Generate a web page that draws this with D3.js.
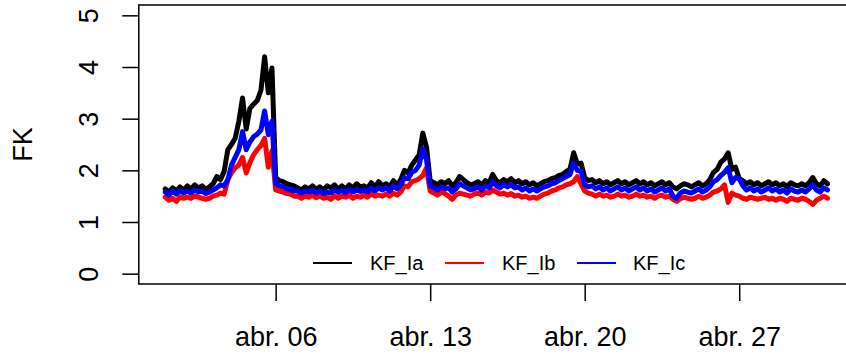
<!DOCTYPE html>
<html>
<head>
<meta charset="utf-8">
<script src="https://cdn.jsdelivr.net/npm/d3@7"></script>
<style>
  html, body { margin: 0; padding: 0; background: #fff; }
  svg { display: block; font-family: "Liberation Sans", Arial, Helvetica, sans-serif; }
</style>
</head>
<body>
<svg id="chart" width="846" height="354"></svg>
<script>
// Series: 4-hourly readings from 1 April 00:00 to 1 May 00:00
const seriesNames = ["KF_Ia", "KF_Ib", "KF_Ic"];
const seriesColors = ["#000000", "#ff0000", "#0000ff"];
const startTime = Date.UTC(2021, 3, 1, 0, 0);
const stepHours = 4;

const kfIa = [
  1.64, 1.58, 1.66, 1.60, 1.68, 1.62,
  1.70, 1.64, 1.72, 1.66, 1.70, 1.63,
  1.68, 1.74, 1.88, 1.82, 1.98, 2.40,
  2.50, 2.62, 2.95, 3.40, 2.80, 3.20,
  3.28, 3.35, 3.55, 4.20, 3.50, 3.98,
  1.86, 1.80, 1.78, 1.74, 1.72, 1.70,
  1.66, 1.62, 1.68, 1.64, 1.70, 1.63,
  1.68, 1.62, 1.70, 1.66, 1.72, 1.64,
  1.70, 1.64, 1.72, 1.66, 1.74, 1.68,
  1.70, 1.66, 1.76, 1.68, 1.78, 1.70,
  1.74, 1.68, 1.80, 1.72, 1.82, 2.00,
  1.95, 2.10, 2.20, 2.30, 2.72, 2.45,
  1.80, 1.76, 1.72, 1.78, 1.74, 1.80,
  1.70, 1.76, 1.88, 1.82, 1.76, 1.72,
  1.74, 1.78, 1.72, 1.80, 1.76, 1.92,
  1.80, 1.76, 1.82, 1.78, 1.84, 1.76,
  1.80, 1.74, 1.78, 1.72, 1.76, 1.70,
  1.74, 1.78, 1.80, 1.84, 1.86, 1.90,
  1.92, 1.98, 2.02, 2.34, 2.12, 2.14,
  1.86, 1.80, 1.82, 1.76, 1.80, 1.74,
  1.78, 1.72, 1.76, 1.80, 1.74, 1.78,
  1.72, 1.76, 1.80, 1.74, 1.78, 1.72,
  1.76, 1.70, 1.74, 1.78, 1.72, 1.76,
  1.68, 1.64, 1.70, 1.74, 1.72, 1.68,
  1.72, 1.76, 1.70, 1.74, 1.82, 1.96,
  2.02, 2.16, 2.22, 2.34, 2.02, 2.06,
  1.84, 1.80, 1.74, 1.78, 1.72, 1.76,
  1.70, 1.74, 1.78, 1.72, 1.76, 1.70,
  1.74, 1.68, 1.76, 1.72, 1.70, 1.74,
  1.70, 1.76, 1.86, 1.74, 1.70, 1.80,
  1.74
];

const kfIb = [
  1.48, 1.42, 1.46, 1.40, 1.48, 1.46,
  1.48, 1.46, 1.50, 1.48, 1.46, 1.44,
  1.46, 1.50, 1.52, 1.56, 1.54, 1.82,
  1.95, 2.05, 2.10, 2.25, 1.95, 2.15,
  2.30, 2.40, 2.48, 2.62, 2.06, 2.38,
  1.62, 1.60, 1.58, 1.55, 1.54, 1.50,
  1.50, 1.46, 1.50, 1.48, 1.52, 1.47,
  1.50, 1.46, 1.48, 1.44, 1.50, 1.46,
  1.50, 1.48, 1.52, 1.46, 1.50, 1.48,
  1.52, 1.48, 1.54, 1.50, 1.52, 1.50,
  1.54, 1.50, 1.56, 1.52, 1.58, 1.70,
  1.68, 1.78, 1.80, 1.84, 1.90, 2.05,
  1.60, 1.56, 1.52, 1.58, 1.55, 1.50,
  1.44, 1.52, 1.56, 1.54, 1.52, 1.50,
  1.54, 1.56, 1.52, 1.58, 1.56, 1.62,
  1.58, 1.54, 1.56, 1.52, 1.55, 1.50,
  1.52, 1.48, 1.50, 1.46, 1.48, 1.46,
  1.50, 1.54, 1.56, 1.60, 1.62, 1.66,
  1.68, 1.72, 1.74, 1.78, 1.88, 1.74,
  1.60, 1.56, 1.54, 1.50, 1.54, 1.50,
  1.52, 1.48, 1.50, 1.54, 1.50, 1.52,
  1.48, 1.50, 1.54, 1.50, 1.52, 1.48,
  1.50, 1.46, 1.50, 1.52, 1.48, 1.50,
  1.44, 1.40, 1.45, 1.48, 1.46, 1.44,
  1.46, 1.50, 1.46, 1.48, 1.52, 1.58,
  1.60, 1.64, 1.72, 1.38, 1.56, 1.52,
  1.50, 1.46, 1.44, 1.48, 1.46, 1.44,
  1.46, 1.48, 1.44, 1.46, 1.42, 1.46,
  1.44, 1.40, 1.46, 1.44, 1.42, 1.46,
  1.44, 1.40, 1.34, 1.42, 1.46, 1.50,
  1.46
];

const kfIc = [
  1.58, 1.52, 1.60, 1.54, 1.60, 1.56,
  1.60, 1.56, 1.62, 1.58, 1.60, 1.55,
  1.58, 1.62, 1.66, 1.72, 1.70, 1.82,
  2.10, 2.25, 2.40, 2.75, 2.40, 2.55,
  2.65, 2.70, 2.78, 3.15, 2.69, 2.95,
  1.74, 1.70, 1.68, 1.64, 1.62, 1.60,
  1.60, 1.56, 1.60, 1.58, 1.62, 1.56,
  1.60, 1.55, 1.58, 1.56, 1.62, 1.57,
  1.61, 1.57, 1.63, 1.58, 1.62, 1.59,
  1.62, 1.58, 1.66, 1.60, 1.66, 1.62,
  1.66, 1.60, 1.70, 1.64, 1.72, 1.86,
  1.84, 1.96, 2.00, 2.10, 2.42, 2.20,
  1.70, 1.66, 1.62, 1.68, 1.64, 1.66,
  1.58, 1.64, 1.74, 1.70, 1.66, 1.62,
  1.64, 1.68, 1.62, 1.70, 1.66, 1.78,
  1.70, 1.66, 1.72, 1.68, 1.72, 1.66,
  1.68, 1.62, 1.66, 1.60, 1.64, 1.60,
  1.64, 1.68, 1.70, 1.74, 1.76, 1.80,
  1.84, 1.88, 1.92, 2.14, 2.00, 1.98,
  1.72, 1.68, 1.70, 1.64, 1.68, 1.62,
  1.66, 1.60, 1.64, 1.68, 1.62, 1.66,
  1.60, 1.64, 1.68, 1.62, 1.66, 1.60,
  1.64, 1.58, 1.62, 1.66, 1.60, 1.64,
  1.50, 1.46, 1.56, 1.60, 1.58, 1.56,
  1.60, 1.64, 1.58, 1.62, 1.68, 1.78,
  1.82, 1.90, 1.96, 2.05, 1.76, 1.86,
  1.84, 1.70, 1.62, 1.66, 1.60, 1.64,
  1.58, 1.62, 1.66, 1.60, 1.64, 1.58,
  1.62, 1.56, 1.64, 1.60, 1.58, 1.62,
  1.58, 1.64, 1.72, 1.62, 1.58, 1.66,
  1.62
];

const xTickDates = [Date.UTC(2021, 3, 6), Date.UTC(2021, 3, 13), Date.UTC(2021, 3, 20), Date.UTC(2021, 3, 27)];
const xTickLabels = ["abr. 06", "abr. 13", "abr. 20", "abr. 27"];
const yTicks = [0, 1, 2, 3, 4, 5];
const yLabel = "FK";

// ---- layout ----
const svg = d3.select("#chart");
const plot = { left: 138.8, right: 854, top: 5, bottom: 284 };

const allSeries = [kfIa, kfIb, kfIc];
const times = kfIa.map((_, i) => new Date(startTime + i * stepHours * 3600e3));
const t0 = +times[0], t1 = +times[times.length - 1];
const pad = (t1 - t0) * 0.04;

const x = d3.scaleUtc()
  .domain([new Date(t0 - pad), new Date(t1 + pad)])
  .range([plot.left, plot.right]);
const y = d3.scaleLinear()
  .domain([-0.2, 5.2])
  .range([plot.bottom, plot.top]);

// ---- data lines (drawn in order: Ia, Ib, Ic) ----
const line = d3.line()
  .x((d, i) => x(times[i]))
  .y(d => y(d));

svg.append("g")
  .selectAll("path")
  .data(allSeries)
  .join("path")
  .attr("d", d => line(d))
  .attr("fill", "none")
  .attr("stroke", (d, i) => seriesColors[i])
  .attr("stroke-width", 5)
  .attr("stroke-linejoin", "round")
  .attr("stroke-linecap", "round");

// ---- axes ----
const yAxis = svg.append("g")
  .attr("transform", `translate(${plot.left},0)`)
  .call(d3.axisLeft(y).tickValues(yTicks).tickSize(16.5).tickFormat(d3.format("d")));
yAxis.select(".domain").remove();
yAxis.selectAll(".tick line").attr("stroke", "#000").attr("stroke-width", 1.5);
yAxis.selectAll(".tick text")
  .attr("x", null).attr("dy", null)
  .attr("transform", "translate(-41,0) rotate(-90)")
  .attr("text-anchor", "middle")
  .attr("fill", "#000")
  .style("font-size", "27px")
  .style("font-family", "'Liberation Sans', Arial, sans-serif");

const xAxis = svg.append("g")
  .attr("transform", `translate(0,${plot.bottom})`)
  .call(d3.axisBottom(x).tickValues(xTickDates.map(d => new Date(d)))
    .tickFormat((d, i) => xTickLabels[i]).tickSize(17));
xAxis.select(".domain").remove();
xAxis.selectAll(".tick line").attr("stroke", "#000").attr("stroke-width", 1.5);
xAxis.selectAll(".tick text")
  .attr("y", 61.5).attr("dy", null)
  .attr("text-anchor", "middle")
  .attr("fill", "#000")
  .style("font-size", "27px")
  .style("font-family", "'Liberation Sans', Arial, sans-serif");

// ---- plot frame ----
svg.append("rect")
  .attr("x", plot.left).attr("y", plot.top)
  .attr("width", plot.right - plot.left).attr("height", plot.bottom - plot.top)
  .attr("fill", "none").attr("stroke", "#000").attr("stroke-width", 1.5);

// ---- y label ----
svg.append("text")
  .attr("transform", `translate(31.5,${(plot.top + plot.bottom) / 2}) rotate(-90)`)
  .attr("text-anchor", "middle")
  .style("font-size", "27px")
  .text(yLabel);

// ---- legend ----
const legendItems = [
  { lx: 313, tx: 370 },
  { lx: 445, tx: 502 },
  { lx: 577, tx: 633 }
];
const legendY = 263;
const lg = svg.append("g");
legendItems.forEach((p, i) => {
  lg.append("line")
    .attr("x1", p.lx).attr("x2", p.lx + 39)
    .attr("y1", legendY).attr("y2", legendY)
    .attr("stroke", seriesColors[i]).attr("stroke-width", 2);
  lg.append("text")
    .attr("x", p.tx).attr("y", legendY)
    .attr("dy", "0.35em")
    .style("font-size", "20px")
    .text(seriesNames[i]);
});
</script>
</body>
</html>
